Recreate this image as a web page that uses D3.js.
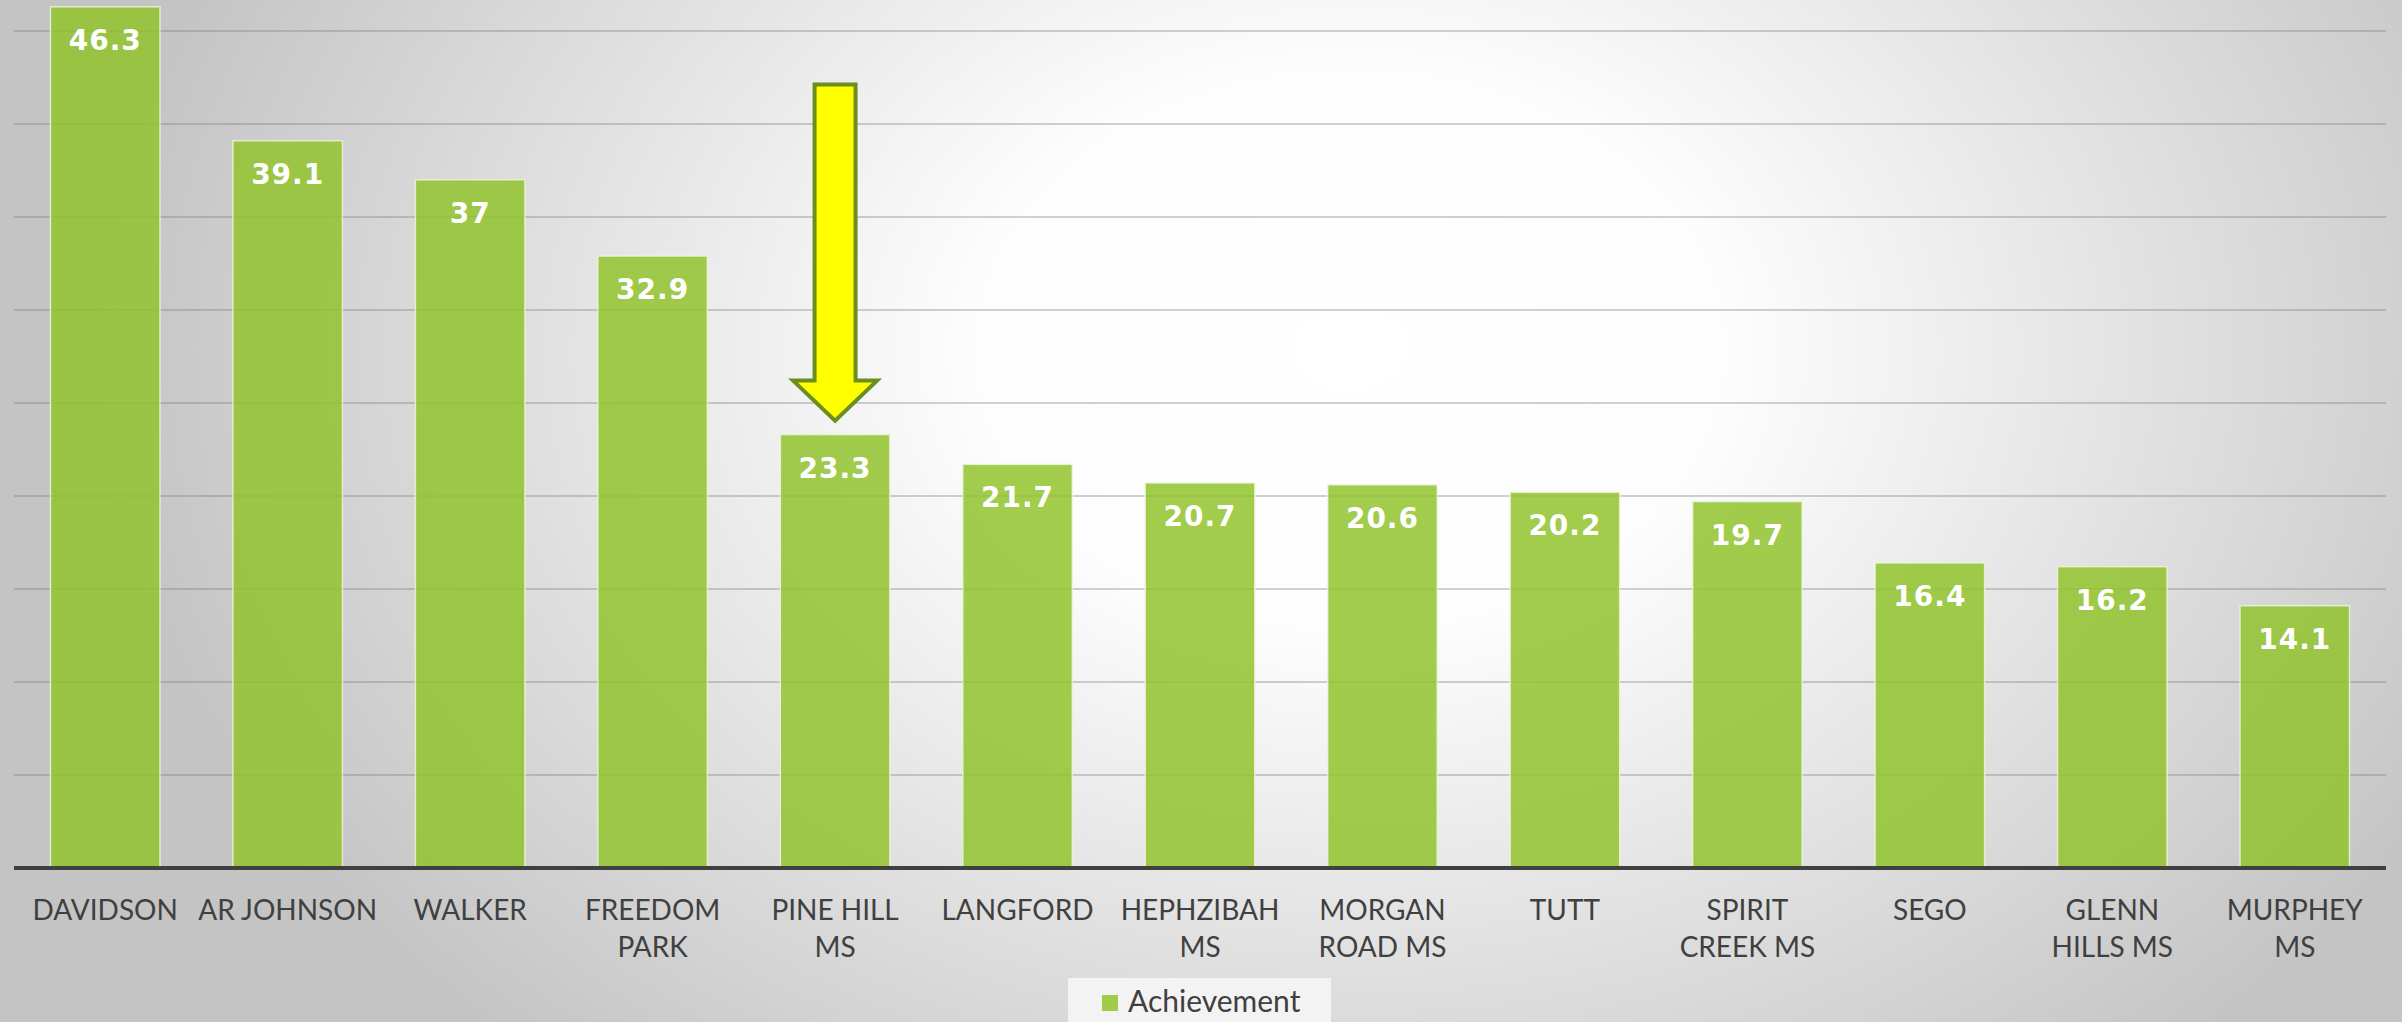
<!DOCTYPE html>
<html>
<head>
<meta charset="utf-8">
<script src="https://cdn.jsdelivr.net/npm/d3@7"></script>
<style>
  html, body { margin: 0; padding: 0; overflow: hidden; }
  svg { display: block; }
</style>
</head>
<body>
<svg id="chart" width="2402" height="1022"></svg>
<script>
const schools = ["DAVIDSON", "AR JOHNSON", "WALKER", "FREEDOM\nPARK", "PINE HILL\nMS", "LANGFORD",
    "HEPHZIBAH\nMS", "MORGAN\nROAD MS", "TUTT", "SPIRIT\nCREEK MS", "SEGO", "GLENN\nHILLS MS", "MURPHEY\nMS"];
const achievement = [46.3, 39.1, 37, 32.9, 23.3, 21.7, 20.7, 20.6, 20.2, 19.7, 16.4, 16.2, 14.1];
const gridTicks = [5, 10, 15, 20, 25, 30, 35, 40, 45];
const seriesName = "Achievement";
const highlighted = "PINE HILL\nMS";

const width = 2402, height = 1022;
const margens = { left: 14, right: 16, axisY: 868 };
const svg = d3.select("#chart");

// background glow
const defs = svg.append("defs");
const grad = defs.append("radialGradient")
    .attr("id", "bg")
    .attr("gradientUnits", "userSpaceOnUse")
    .attr("cx", 1350).attr("cy", 350).attr("r", 1250)
    .attr("gradientTransform", "translate(1350,350) scale(1,0.75) translate(-1350,-350)");
grad.append("stop").attr("offset", "0").attr("stop-color", "#ffffff");
grad.append("stop").attr("offset", "0.3").attr("stop-color", "#fdfdfd");
grad.append("stop").attr("offset", "1").attr("stop-color", "#c4c4c4");
svg.append("rect").attr("width", width).attr("height", height).attr("fill", "url(#bg)");

const mapX = d3.scaleBand()
    .domain(schools)
    .range([margens.left, width - margens.right])
    .paddingInner(0.4)
    .paddingOuter(0.2);

const mapY = d3.scaleLinear()
    .domain([0, 50])
    .range([margens.axisY, margens.axisY - 50 * 18.6]);

// gridlines
svg.append("g")
    .selectAll("line")
    .data(gridTicks)
    .enter()
    .append("line")
    .attr("x1", margens.left)
    .attr("x2", width - margens.right)
    .attr("y1", (d) => mapY(d))
    .attr("y2", (d) => mapY(d))
    .attr("stroke", "#7a7a7a")
    .attr("stroke-opacity", 0.35)
    .attr("stroke-width", 2);

// bars
svg.append("g")
    .selectAll("rect")
    .data(schools)
    .enter()
    .append("rect")
    .attr("x", (d) => mapX(d))
    .attr("y", (d, i) => mapY(achievement[i]))
    .attr("width", mapX.bandwidth())
    .attr("height", (d, i) => mapY(0) - mapY(achievement[i]))
    .attr("fill", "#92c32d")
    .attr("fill-opacity", 0.85)
    .attr("stroke", "#eef5e0")
    .attr("stroke-opacity", 0.8)
    .attr("stroke-width", 1.5);

// value labels
svg.append("g")
    .selectAll("text")
    .data(schools)
    .enter()
    .append("text")
    .attr("x", (d) => mapX(d) + mapX.bandwidth() / 2)
    .attr("y", (d, i) => mapY(achievement[i]) + 43)
    .attr("text-anchor", "middle")
    .attr("font-family", "DejaVu Sans")
    .attr("font-weight", "bold")
    .attr("font-size", 28)
    .attr("letter-spacing", 1)
    .attr("fill", "#ffffff")
    .text((d, i) => achievement[i]);

// x axis line
svg.append("line")
    .attr("x1", margens.left)
    .attr("x2", width - margens.right)
    .attr("y1", mapY(0))
    .attr("y2", mapY(0))
    .attr("stroke", "#404040")
    .attr("stroke-width", 4);

// category labels
const labels = svg.append("g")
    .selectAll("text")
    .data(schools)
    .enter()
    .append("text")
    .attr("text-anchor", "middle")
    .attr("font-family", "Lato")
    .attr("font-size", 28)
    .attr("fill", "#404040");
labels.each(function (d) {
    const t = d3.select(this);
    d.split("\n").forEach((line, k) => {
        t.append("tspan")
            .attr("x", mapX(d) + mapX.bandwidth() / 2)
            .attr("y", mapY(0) + 52 + k * 37)
            .text(line);
    });
});

// highlight arrow above the Pine Hill bar
const hi = schools.indexOf(highlighted);
const ax = mapX(highlighted) + mapX.bandwidth() / 2;
const tipY = mapY(achievement[hi]) - 14;
const shaftW = 41, headW = 84, headH = 40, arrowLen = 336;
const arrow = d3.path();
arrow.moveTo(ax - shaftW / 2, tipY - arrowLen);
arrow.lineTo(ax + shaftW / 2, tipY - arrowLen);
arrow.lineTo(ax + shaftW / 2, tipY - headH);
arrow.lineTo(ax + headW / 2, tipY - headH);
arrow.lineTo(ax, tipY);
arrow.lineTo(ax - headW / 2, tipY - headH);
arrow.lineTo(ax - shaftW / 2, tipY - headH);
arrow.closePath();
svg.append("path")
    .attr("d", arrow.toString())
    .attr("fill", "#ffff00")
    .attr("stroke", "#6b8e1f")
    .attr("stroke-width", 4)
    .attr("stroke-linejoin", "miter");

// legend
const legend = svg.append("g");
legend.append("rect")
    .attr("x", 1068).attr("y", 978)
    .attr("width", 263).attr("height", 50)
    .attr("fill", "#f3f3f3");
legend.append("rect")
    .attr("x", 1102).attr("y", 995)
    .attr("width", 16).attr("height", 16)
    .attr("fill", "#92c32d")
    .attr("fill-opacity", 0.85);
legend.append("text")
    .attr("x", 1128).attr("y", 1012)
    .attr("font-family", "Lato")
    .attr("font-size", 30)
    .attr("fill", "#404040")
    .text(seriesName);
</script>
</body>
</html>
